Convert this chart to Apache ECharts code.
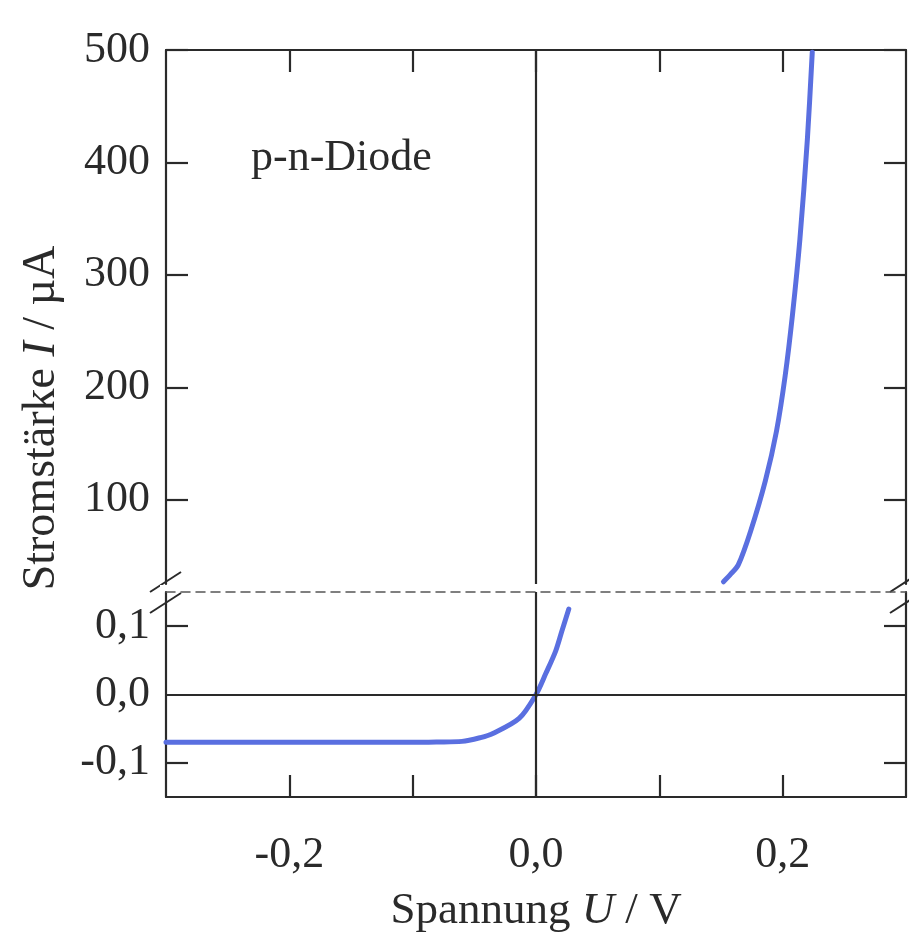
<!DOCTYPE html>
<html>
<head>
<meta charset="utf-8">
<script src="https://cdn.jsdelivr.net/npm/echarts@6/dist/echarts.min.js"></script>
<style>
  html, body { margin: 0; padding: 0; background: #fff; }
  #chart { width: 909px; height: 937px; }
</style>
</head>
<body>
<div id="chart"></div>
<script>
// forward branch (upper panel, µA)
var topU = [0.152, 0.158, 0.164, 0.174, 0.186, 0.195, 0.202, 0.208, 0.214, 0.220, 0.224];
var topI = [27, 34, 42, 72, 117, 161, 210, 265, 332, 420, 498];
// around zero (lower panel, µA)
var botU = [-0.3, -0.2, -0.1, -0.08, -0.06, -0.045, -0.035, -0.0137, 0, 0.008, 0.016, 0.021, 0.0266];
var botI = [-0.07, -0.07, -0.07, -0.0695, -0.0686, -0.063, -0.057, -0.035, 0, 0.031, 0.064, 0.093, 0.125];

var xTicks = [-0.2, -0.1, 0, 0.1, 0.2];
var xLabels = [-0.2, 0, 0.2];
var topTicks = [100, 200, 300, 400, 500];
var botTicks = [-0.1, 0, 0.1];

var font = 'Liberation Serif';
var ink = '#2a2a2a';
var blue = '#5a6fe0';

function comma(v) {
  return v.toFixed(1).replace('.', ',');
}

function pairs(xs, ys) {
  return xs.map(function (x, i) { return [x, ys[i]]; });
}

var axisLine = { show: true, onZero: false, lineStyle: { color: ink, width: 2.2 } };

function tickStyle(vals) {
  return { show: true, inside: true, length: 22, customValues: vals, lineStyle: { color: ink, width: 2.2 } };
}

var option = {
  backgroundColor: '#fff',
  animation: false,
  grid: [
    { left: 166, right: 3, top: 50, height: 534 },
    { left: 166, right: 3, top: 592, height: 205 }
  ],
  xAxis: [
    {
      gridIndex: 0, type: 'value', position: 'top', min: -0.3, max: 0.3,
      axisLine: axisLine, axisTick: tickStyle(xTicks),
      axisLabel: { show: false }, splitLine: { show: false }
    },
    {
      gridIndex: 1, type: 'value', position: 'bottom', min: -0.3, max: 0.3,
      axisLine: axisLine, axisTick: tickStyle(xTicks),
      axisLabel: {
        customValues: xLabels, formatter: comma, margin: 36,
        fontFamily: font, fontSize: 44, color: ink
      },
      splitLine: { show: false },
      name: 'Spannung {i|U} / V', nameLocation: 'middle', nameGap: 92,
      nameTextStyle: {
        fontFamily: font, fontSize: 45, color: ink,
        rich: { i: { fontFamily: font, fontSize: 45, fontStyle: 'italic', color: ink } }
      }
    },
    {
      gridIndex: 1, type: 'value', position: 'top', min: -0.3, max: 0.3,
      axisLine: { show: true, onZero: false, lineStyle: { color: '#555', width: 1.5, type: [9, 6] } },
      axisTick: { show: false }, axisLabel: { show: false }, splitLine: { show: false }
    }
  ],
  yAxis: [
    {
      gridIndex: 0, type: 'value', position: 'left', min: 25, max: 500,
      axisLine: axisLine, axisTick: tickStyle(topTicks),
      axisLabel: { customValues: topTicks, margin: 16, fontFamily: font, fontSize: 44, color: ink },
      splitLine: { show: false }
    },
    {
      gridIndex: 0, type: 'value', position: 'right', min: 25, max: 500,
      axisLine: axisLine, axisTick: tickStyle(topTicks),
      axisLabel: { show: false }, splitLine: { show: false }
    },
    {
      gridIndex: 1, type: 'value', position: 'left', min: -0.15, max: 0.15,
      axisLine: axisLine, axisTick: tickStyle([-0.1, 0.1]),
      axisLabel: { customValues: botTicks, formatter: comma, margin: 16, fontFamily: font, fontSize: 44, color: ink },
      splitLine: { show: false }
    },
    {
      gridIndex: 1, type: 'value', position: 'right', min: -0.15, max: 0.15,
      axisLine: axisLine, axisTick: tickStyle([-0.1, 0.1]),
      axisLabel: { show: false }, splitLine: { show: false }
    }
  ],
  series: [
    {
      type: 'line', xAxisIndex: 0, yAxisIndex: 0,
      data: pairs(topU, topI), smooth: 0.3, showSymbol: false,
      lineStyle: { color: blue, width: 5, cap: 'round' },
      markLine: {
        silent: true, symbol: 'none', label: { show: false },
        lineStyle: { color: ink, width: 2.2, type: 'solid' },
        data: [{ xAxis: 0 }]
      }
    },
    {
      type: 'line', xAxisIndex: 1, yAxisIndex: 2,
      data: pairs(botU, botI), smooth: 0.3, showSymbol: false,
      lineStyle: { color: blue, width: 5, cap: 'round' },
      markLine: {
        silent: true, symbol: 'none', label: { show: false },
        lineStyle: { color: ink, width: 2.2, type: 'solid' },
        data: [{ xAxis: 0 }, { yAxis: 0 }]
      }
    }
  ],
  graphic: [
    {
      type: 'text', x: 42, y: 418, rotation: Math.PI / 2,
      style: {
        text: 'Stromstärke {i|I} / µA', fontFamily: font, fontSize: 46, fill: ink,
        align: 'center', verticalAlign: 'middle',
        rich: { i: { fontFamily: font, fontSize: 46, fontStyle: 'italic', fill: ink } }
      }
    },
    {
      type: 'text', x: 251, y: 158,
      style: { text: 'p-n-Diode', fontFamily: font, fontSize: 44, fill: ink, verticalAlign: 'middle' }
    },
    { type: 'line', shape: { x1: 150, y1: 592, x2: 181, y2: 572 }, style: { stroke: ink, lineWidth: 2 } },
    { type: 'line', shape: { x1: 150, y1: 613, x2: 181, y2: 593 }, style: { stroke: ink, lineWidth: 2 } },
    { type: 'line', shape: { x1: 890, y1: 592, x2: 921, y2: 572 }, style: { stroke: ink, lineWidth: 2 } },
    { type: 'line', shape: { x1: 890, y1: 613, x2: 921, y2: 593 }, style: { stroke: ink, lineWidth: 2 } },
    { type: 'rect', shape: { x: 160, y: 585, width: 12, height: 6 }, style: { fill: '#fff' } }
  ]
};

var myChart = echarts.init(document.getElementById('chart'));
myChart.setOption(option);
window.addEventListener('resize', function () {
  myChart.resize();
});
</script>
</body>
</html>
